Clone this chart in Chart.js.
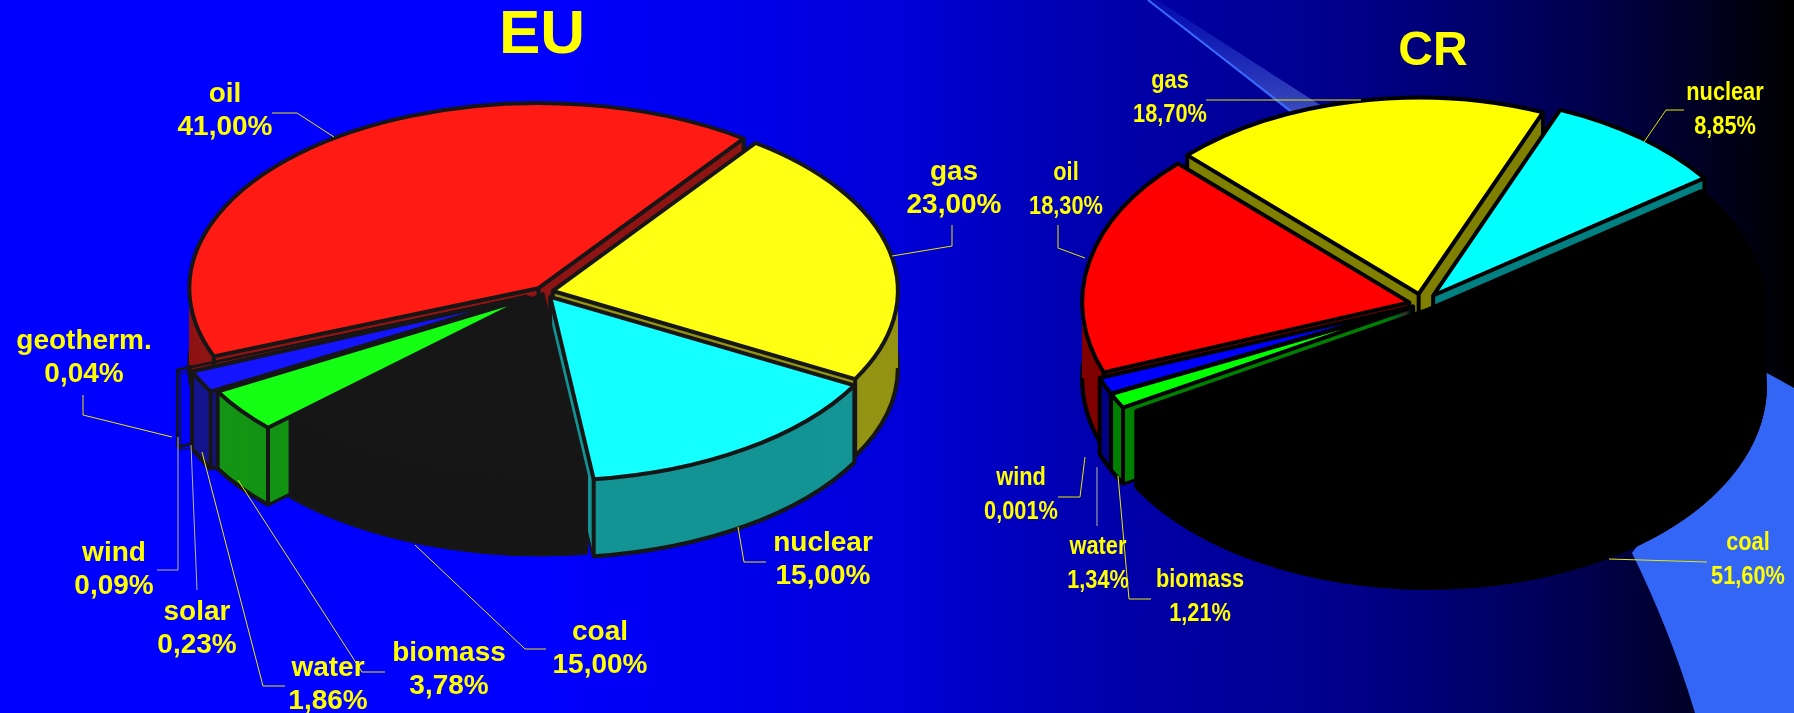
<!DOCTYPE html>
<html>
<head>
<meta charset="utf-8">
<style>
  html, body { margin: 0; padding: 0; width: 1794px; height: 713px; overflow: hidden; }
  body { position: relative; background: linear-gradient(90deg, #0000ff 0%, #0000ff 30%, #0000d8 50%, #0000b0 60%, #000088 76%, #000050 88%, #000000 100%); }
  svg, canvas { position: absolute; left: 0; top: 0; }
</style>
</head>
<body>
<svg width="1794" height="713">
  <defs>
    <linearGradient id="beam" x1="0" y1="0" x2="0" y2="1">
      <stop offset="0" stop-color="#3a6aff" stop-opacity="0.1"/>
      <stop offset="1" stop-color="#6a8ae0" stop-opacity="0.55"/>
    </linearGradient>
  </defs>
  <polygon points="1148,0 1157,0 1325,108 1292,114" fill="url(#beam)"/>
  <line x1="1148" y1="0" x2="1292" y2="112" stroke="#3a6aff" stroke-width="2"/>
  <path d="M1632,553 Q1670,630 1695,713 L1794,713 L1794,388 L1767,373 Z" fill="#3366f5"/>
</svg>
<canvas id="euChart" width="1794" height="713"></canvas>
<canvas id="crChart" width="1794" height="713"></canvas>
<script src="https://cdn.jsdelivr.net/npm/chart.js@4"></script>
<script>
// EU
const euNames = ['gas', 'nuclear', 'coal', 'biomass', 'water', 'solar', 'wind', 'geotherm.', 'oil'];
const euValues = [23, 15, 15, 3.78, 1.86, 0.23, 0.09, 0.04, 41];
const euColors = ['#ffff14', '#14ffff', '#161616', '#14ff14', '#1414ff', '#c0c0c0', '#c0c0c0', '#c0c0c0', '#ff1a14'];
const euSides = ['#949414', '#149494', '#161616', '#149414', '#14148f', '#a0a0a0', '#a0a0a0', '#a0a0a0', '#8f1414'];
const euOffsets = [36, 44, 16, 72, 80, 100, 100, 100, 36];

// CR
const crNames = ['gas', 'nuclear', 'coal', 'biomass', 'water', 'wind', 'oil'];
const crValues = [18.7, 8.85, 51.6, 1.21, 1.34, 0.001, 18.3];
const crColors = ['#ffff00', '#00ffff', '#000000', '#00ff00', '#0000ff', '#c0c0c0', '#ff0000'];
const crSides = ['#808000', '#008080', '#000000', '#008000', '#000080', '#808080', '#800000'];
const crOffsets = [68, 72, 44, 40, 40, 40, 52];

// label centre and leader polyline, same order as the names
const euLayout = [
  { x: 954, y: 172, line: [[952, 225], [952, 246], [892, 256]] },
  { x: 823, y: 543, line: [[766, 562], [744, 562], [738, 527]] },
  { x: 600, y: 632, line: [[546, 649], [525, 649], [415, 545]] },
  { x: 449, y: 653, line: [[385, 672], [362, 672], [238, 480]] },
  { x: 328, y: 668, line: [[285, 686], [263, 686], [202, 452]] },
  { x: 197, y: 612, line: [[197, 590], [191, 445]], stroke: '#b8b8a0' },
  { x: 114, y: 553, line: [[157, 570], [178, 570], [178, 437]], stroke: '#b8b8a0' },
  { x: 84, y: 341, line: [[83, 395], [83, 415], [172, 437]] },
  { x: 225, y: 94, line: [[272, 113], [297, 113], [334, 137]] }
];
const crLayout = [
  { x: 1170, y: 81, line: [[1206, 100], [1361, 100]] },
  { x: 1725, y: 93, line: [[1684, 110], [1666, 110], [1644, 142]] },
  { x: 1748, y: 543, line: [[1707, 562], [1609, 559]] },
  { x: 1200, y: 580, line: [[1151, 599], [1129, 599], [1118, 476]] },
  { x: 1098, y: 547, line: [[1097, 526], [1097, 467]], stroke: '#b8b8a0' },
  { x: 1021, y: 478, line: [[1058, 497], [1080, 497], [1085, 457]] },
  { x: 1066, y: 173, line: [[1058, 225], [1058, 248], [1085, 258]] }
];

function percentText(v) {
  return v.toFixed(v < 0.01 ? 3 : 2).replace('.', ',') + '%';
}

// same numbers ArcElement.draw uses for its shifted wedge
function wedge(el, tilt) {
  const mid = (el.startAngle + el.endAngle) / 2;
  const d = el.options.offset / 4;
  const fix = 1 - Math.sin(Math.min(Math.PI, el.circumference));
  return {
    ax: el.x + Math.cos(mid) * d,
    ay: el.y + Math.sin(mid) * d * tilt,
    r: el.outerRadius + d * fix
  };
}

function lineWidthFor(el, opts) {
  return el.circumference < 0.03 ? 1 : opts.outlineWidth;
}

function strokeWedge(ctx, el, tilt, dy) {
  const w = wedge(el, tilt);
  ctx.beginPath();
  ctx.moveTo(w.ax, w.ay + dy);
  ctx.ellipse(w.ax, w.ay + dy, w.r, w.r * tilt, 0, el.startAngle, el.endAngle);
  ctx.closePath();
  ctx.stroke();
}

// only the front half of the bottom rim can be seen
function strokeFrontRim(ctx, el, tilt, dy) {
  const w = wedge(el, tilt);
  for (let k = -1; k <= 1; k++) {
    const lo = Math.max(el.startAngle, k * 2 * Math.PI);
    const hi = Math.min(el.endAngle, Math.PI + k * 2 * Math.PI);
    if (lo < hi) {
      ctx.beginPath();
      ctx.ellipse(w.ax, w.ay + dy, w.r, w.r * tilt, 0, lo, hi);
      ctx.stroke();
    }
  }
}

// tilts the flat pie into a 3D looking disc, walls are the same arcs swept downward
const tiltPlugin = {
  id: 'tilt',
  beforeDatasetDraw(chart, args, opts) {
    const ctx = chart.ctx;
    const arcs = args.meta.data;
    const cy = arcs[0].y;

    ctx.strokeStyle = opts.outlineColor;
    ctx.lineJoin = 'round';

    // back slices first
    const order = arcs.slice().sort((a, b) =>
      Math.sin((a.startAngle + a.endAngle) / 2) - Math.sin((b.startAngle + b.endAngle) / 2));
    order.forEach(el => {
      const i = arcs.indexOf(el);
      ctx.lineWidth = lineWidthFor(el, opts);
      strokeWedge(ctx, el, opts.tilt, opts.depth);
      const saved = el.options;
      el.options = Object.assign({}, saved, { backgroundColor: opts.sides[i] });
      for (let k = opts.depth; k > 0; k--) {
        ctx.save();
        ctx.translate(0, cy);
        ctx.scale(1, opts.tilt);
        ctx.translate(0, -cy + k / opts.tilt);
        el.draw(ctx);
        ctx.restore();
      }
      el.options = saved;
      strokeFrontRim(ctx, el, opts.tilt, opts.depth);
      const w = wedge(el, opts.tilt);
      ctx.beginPath();
      [el.startAngle, el.endAngle].forEach(a => {
        const x = w.ax + Math.cos(a) * w.r;
        const y = w.ay + Math.sin(a) * w.r * opts.tilt;
        ctx.moveTo(x, y);
        ctx.lineTo(x, y + opts.depth);
      });
      ctx.moveTo(w.ax, w.ay);
      ctx.lineTo(w.ax, w.ay + opts.depth);
      ctx.stroke();
    });

    ctx.save();
    ctx.translate(0, cy);
    ctx.scale(1, opts.tilt);
    ctx.translate(0, -cy);
  },
  afterDatasetDraw(chart, args, opts) {
    const ctx = chart.ctx;
    ctx.restore();
    ctx.strokeStyle = opts.outlineColor;
    args.meta.data.forEach(el => {
      ctx.lineWidth = lineWidthFor(el, opts);
      strokeWedge(ctx, el, opts.tilt, 0);
    });
  },
  afterLayout(chart, args, opts) {
    chart.titleBlock.left += opts.titleShift;
    chart.titleBlock.right += opts.titleShift;
  }
};

const calloutPlugin = {
  id: 'callouts',
  afterDraw(chart, args, opts) {
    const ctx = chart.ctx;
    const values = chart.data.datasets[0].data;
    ctx.save();
    ctx.lineWidth = 1;
    opts.layout.forEach(item => {
      ctx.strokeStyle = item.stroke || '#e8e800';
      ctx.beginPath();
      item.line.forEach((p, i) => i ? ctx.lineTo(p[0], p[1]) : ctx.moveTo(p[0], p[1]));
      ctx.stroke();
    });
    ctx.font = 'bold ' + opts.fontSize + 'px "Liberation Sans"';
    ctx.fillStyle = '#ffff00';
    ctx.textAlign = 'center';
    ctx.textBaseline = 'middle';
    opts.layout.forEach((item, i) => {
      [chart.data.labels[i], percentText(values[i])].forEach((txt, n) => {
        const w = ctx.measureText(txt).width * opts.squeeze;
        ctx.fillText(txt, item.x, item.y + n * opts.lineGap, w);
      });
    });
    ctx.restore();
  }
};

function pie3d(id, cfg) {
  return new Chart(document.getElementById(id).getContext('2d'), {
    type: 'pie',
    data: {
      labels: cfg.names,
      datasets: [{
        data: cfg.values,
        backgroundColor: cfg.colors,
        offset: cfg.offsets,
        borderWidth: 0,
        clip: false
      }]
    },
    plugins: [tiltPlugin, calloutPlugin],
    options: {
      responsive: false,
      animation: false,
      radius: cfg.radius,
      rotation: cfg.rotation,
      layout: { padding: cfg.padding },
      plugins: {
        legend: { display: false },
        tooltip: { enabled: false },
        title: {
          display: true,
          text: cfg.title,
          color: '#ffff00',
          font: { family: 'Liberation Sans', size: cfg.titleSize, weight: 'bold', lineHeight: 1 },
          padding: { top: cfg.titleTop, bottom: 0 }
        },
        tilt: {
          tilt: cfg.tilt,
          depth: cfg.depth,
          sides: cfg.sides,
          outlineColor: cfg.outline,
          outlineWidth: 4,
          titleShift: cfg.titleShift
        },
        callouts: { layout: cfg.layout, fontSize: cfg.fontSize, lineGap: cfg.lineGap, squeeze: cfg.squeeze }
      }
    }
  });
}

pie3d('euChart', {
  names: euNames, values: euValues, colors: euColors, sides: euSides, offsets: euOffsets, layout: euLayout,
  title: 'EU', titleSize: 62, titleTop: 5, titleShift: -2, outline: '#161616',
  radius: 345, rotation: 36, tilt: 0.53, depth: 77,
  padding: { left: 0, right: 706, top: 0, bottom: 196 },
  fontSize: 28, lineGap: 33, squeeze: 1
});

pie3d('crChart', {
  names: crNames, values: crValues, colors: crColors, sides: crSides, offsets: crOffsets, layout: crLayout,
  title: 'CR', titleSize: 48, titleTop: 28, titleShift: 11, outline: '#000000',
  radius: 326, rotation: -45, tilt: 0.6, depth: 76,
  padding: { left: 1050, right: 0, top: 0, bottom: 181 },
  fontSize: 25, lineGap: 34, squeeze: 0.87
});
</script>
</body>
</html>
